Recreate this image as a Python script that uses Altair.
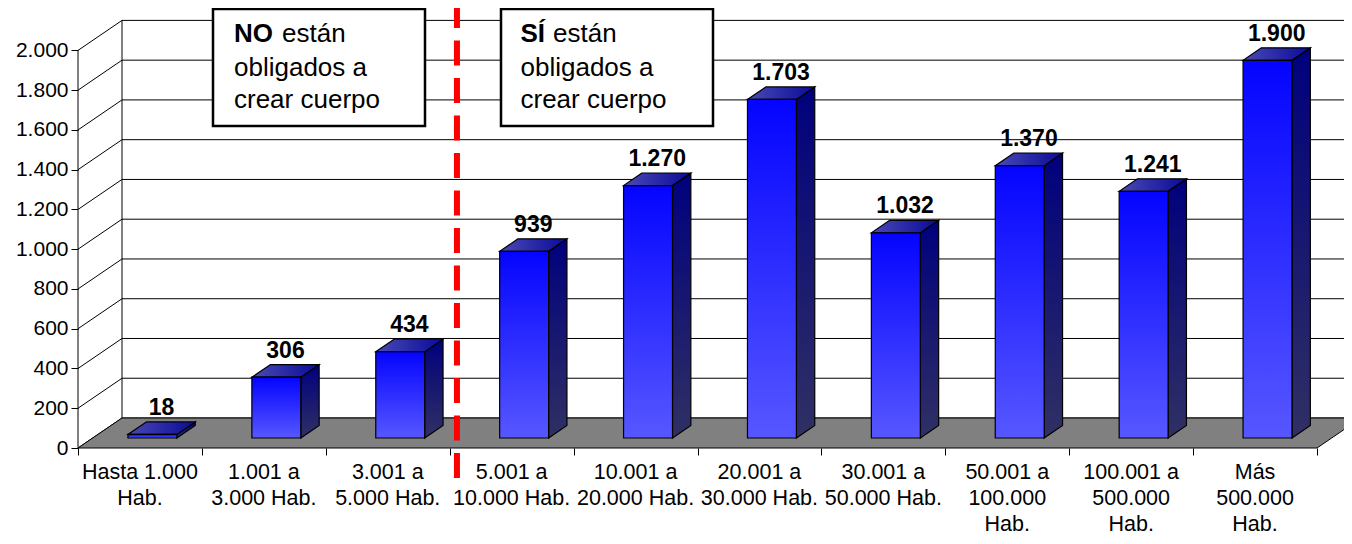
import altair as alt
import numpy as np
import pandas as pd

# ---------------- data ----------------
categories = [
    "Hasta 1.000\nHab.",
    "1.001 a\n3.000 Hab.",
    "3.001 a\n5.000 Hab.",
    "5.001 a\n10.000 Hab.",
    "10.001 a\n20.000 Hab.",
    "20.001 a\n30.000 Hab.",
    "30.001 a\n50.000 Hab.",
    "50.001 a\n100.000\nHab.",
    "100.001 a\n500.000\nHab.",
    "Más\n500.000\nHab.",
]
values = [18, 306, 434, 939, 1270, 1703, 1032, 1370, 1241, 1900]
value_labels = ["18", "306", "434", "939", "1.270", "1.703", "1.032", "1.370", "1.241", "1.900"]
y_ticks = [0, 200, 400, 600, 800, 1000, 1200, 1400, 1600, 1800, 2000]
no_bold, no_rest = "NO", "están"
si_bold, si_rest = "SÍ", "están"
box_lines = ["obligados a", "crear cuerpo"]
separator_after = 3  # red dashed line between categories 3 and 4

# ---------------- layout ----------------
FONT = "Liberation Sans"
W, H = 1266, 440
PX_CAT = 123.9
PX_VAL = 0.1988
XMAX = W / PX_CAT
YMAX = H / PX_VAL
DX = 44 / PX_CAT          # depth offset in category units
DY = 30 / PX_VAL          # depth offset in value units
BAR_L, BAR_R = 0.285, 0.68
D0, D1 = 0.333, 0.75
n = len(values)
XEND = XMAX + 0.6
YTOP = max(y_ticks)
vals = np.array(values, dtype=float)
idx = np.arange(n)

xs = alt.Scale(domain=[0, XMAX], nice=False, zero=False)
ys = alt.Scale(domain=[0, YMAX], nice=False, zero=False)
x_axis = alt.Axis(
    values=list(range(n + 1)), labels=False, domain=False, grid=False,
    tickSize=7, tickColor="black", tickWidth=1, title=None,
)
y_axis = alt.Axis(
    values=y_ticks,
    labelExpr="replace(format(datum.value, ','), ',', '.')",
    domain=False, grid=False, tickSize=7, tickColor="black", tickWidth=1,
    labelFont=FONT, labelFontSize=21, labelColor="black", labelPadding=3, title=None,
)


def X(f):
    return alt.X(f, scale=xs, axis=x_axis, stack=None)


def Y(f):
    return alt.Y(f, scale=ys, axis=y_axis, stack=None)


# grid lines (left wall diagonal + back wall horizontal)
grid_rows = []
for t in y_ticks:
    grid_rows += [
        {"g": t, "x": 0.0, "y": t},
        {"g": t, "x": DX, "y": t + DY},
        {"g": t, "x": XEND, "y": t + DY},
    ]
grid = alt.Chart(pd.DataFrame(grid_rows)).mark_line(color="black", strokeWidth=1).encode(
    x=X("x:Q"), y=Y("y:Q"), detail="g:N",
)

walls = alt.Chart(pd.DataFrame({"x": [0.0, DX], "y": [0.0, DY], "y2": [YTOP, YTOP + DY]})).mark_rule(
    color="black", strokeWidth=1
).encode(x=X("x:Q"), y=Y("y:Q"), y2="y2:Q")

floor_df = pd.DataFrame({"y": [0.0, DY], "x": [0.0, DX], "x2": [float(n), n + DX]})
floor = alt.Chart(floor_df).mark_area(
    orient="horizontal", fill="#808080", stroke="black", strokeWidth=1
).encode(y=Y("y:Q"), x=X("x:Q"), x2="x2:Q")

# bar faces
side_rows, top_rows = [], []
for i, v in zip(idx, vals):
    for d in (D0, D1):
        side_rows.append({"bar": int(i), "x": i + BAR_R + d * DX, "y": d * DY, "y2": v + d * DY})
        top_rows.append({"bar": int(i), "y": v + d * DY, "x": i + BAR_L + d * DX, "x2": i + BAR_R + d * DX})

side_grad = alt.Gradient(
    gradient="linear", x1=0, x2=0, y1=0, y2=1,
    stops=[alt.GradientStop(offset=0, color="#00007E"), alt.GradientStop(offset=1, color="#303064")],
)
top_grad = alt.Gradient(
    gradient="linear", x1=0, x2=1, y1=0, y2=0,
    stops=[alt.GradientStop(offset=0, color="#4A4AB6"), alt.GradientStop(offset=1, color="#0A0A98")],
)
front_grad = alt.Gradient(
    gradient="linear", x1=0, x2=0, y1=0, y2=1,
    stops=[alt.GradientStop(offset=0, color="#0404FF"), alt.GradientStop(offset=1, color="#5757FF")],
)

side = alt.Chart(pd.DataFrame(side_rows)).mark_area(
    orient="vertical", fill=side_grad, stroke="black", strokeWidth=1.2
).encode(x=X("x:Q"), y=Y("y:Q"), y2="y2:Q", detail="bar:N")

top = alt.Chart(pd.DataFrame(top_rows)).mark_area(
    orient="horizontal", fill=top_grad, stroke="black", strokeWidth=1.2
).encode(y=Y("y:Q"), x=X("x:Q"), x2="x2:Q", detail="bar:N")

front_df = pd.DataFrame({
    "x": idx + BAR_L + D0 * DX, "x2": idx + BAR_R + D0 * DX,
    "y": np.full(n, D0 * DY), "y2": vals + D0 * DY,
})
front = alt.Chart(front_df).mark_rect(fill=front_grad, stroke="black", strokeWidth=1.2).encode(
    x=X("x:Q"), x2="x2:Q", y=Y("y:Q"), y2="y2:Q",
)

lab_df = pd.DataFrame({
    "x": idx + (BAR_L + BAR_R) / 2 + (D0 + D1) / 2 * DX,
    "y": vals + D1 * DY,
    "t": value_labels,
})
vlabels = alt.Chart(lab_df).mark_text(
    font=FONT, fontSize=23, fontWeight="bold", color="black", baseline="alphabetic", dy=-7
).encode(x=X("x:Q"), y=Y("y:Q"), text="t:N")

cat_df = pd.DataFrame({"x": idx + 0.5, "t": categories})
clabels = alt.Chart(cat_df).mark_text(
    font=FONT, fontSize=21.5, color="black", baseline="alphabetic", align="center",
    lineBreak="\n", lineHeight=26,
).encode(x=X("x:Q"), y=alt.value(471), text="t:N")

one = pd.DataFrame({"a": [0]})


def box(x0, x1):
    return alt.Chart(one).mark_rect(fill="white", stroke="black", strokeWidth=2.5).encode(
        x=alt.value(x0), x2=alt.value(x1), y=alt.value(1), y2=alt.value(118)
    )


def txt(s, x, y, bold=False):
    return alt.Chart(one).mark_text(
        font=FONT, fontSize=26, fontWeight="bold" if bold else "normal", color="black",
        align="left", baseline="alphabetic",
    ).encode(x=alt.value(x), y=alt.value(y), text=alt.value(s))


ann = [
    box(135, 347), box(423, 635),
    txt(no_bold, 156, 34.3, True), txt(no_rest, 204, 34.3),
    txt(box_lines[0], 156, 67.7), txt(box_lines[1], 156, 100.3),
    txt(si_bold, 442.5, 34.3, True), txt(si_rest, 475, 34.3),
    txt(box_lines[0], 442.5, 67.7), txt(box_lines[1], 442.5, 100.3),
]

sep = alt.Chart(pd.DataFrame({"x": [separator_after + 0.165 * DX]})).mark_rule(
    color="#FF0000", strokeWidth=6, strokeDash=[25, 12.5]
).encode(x=X("x:Q"), y=alt.value(-5), y2=alt.value(470))

chart = alt.layer(grid, walls, floor, side, top, front, vlabels, clabels, *ann, sep).properties(
    width=W, height=H,
    autosize=alt.AutoSizeParams(type="none"),
    padding={"left": 70, "top": 0, "right": 0, "bottom": 88},
).configure_view(stroke=None)

chart.save("out.html", embed_options={"renderer": "svg", "actions": False})
